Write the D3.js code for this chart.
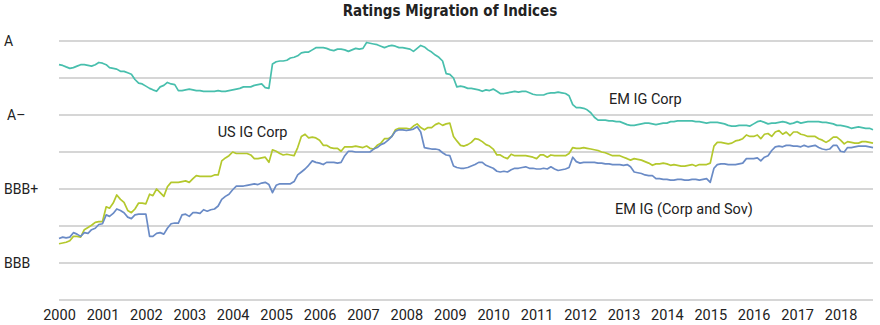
<!DOCTYPE html>
<html>
<head>
<meta charset="utf-8">
<script src="https://cdn.jsdelivr.net/npm/d3@7"></script>
<style>
  html, body { margin: 0; padding: 0; background: #ffffff; }
  svg { display: block; }
</style>
</head>
<body>
<svg id="chart" width="880" height="325"></svg>
<script>
// ---------- DATA ----------
const chartTitle = "Ratings Migration of Indices";
// monthly observations, Jan 2000 .. Oct 2018
const startMonth = new Date(2000, 0, 1);
const endMonth = new Date(2018, 9, 1);
// rating scale: notches above BBB
const ratingTicks = [0, 1, 2, 3];
const ratingLabels = ["BBB", "BBB+", "A\u2013", "A"];
const gridValues = [-0.5, 0, 0.5, 1, 1.5, 2, 2.5, 3];
const yearTicks = [2000,2001,2002,2003,2004,2005,2006,2007,2008,2009,2010,2011,2012,2013,2014,2015,2016,2017,2018];
const seriesNames = ["EM IG Corp", "US IG Corp", "EM IG (Corp and Sov)"];

const emIgCorp = [
2.68,2.67,2.65,2.63,2.64,2.66,2.68,2.68,2.67,2.66,2.68,2.71,2.70,2.68,2.64,2.63,2.62,2.59,2.59,2.57,
2.55,2.48,2.43,2.42,2.39,2.36,2.34,2.32,2.38,2.40,2.44,2.42,2.41,2.33,2.33,2.34,2.35,2.34,2.33,2.33,
2.32,2.32,2.32,2.32,2.33,2.32,2.32,2.33,2.34,2.35,2.36,2.38,2.38,2.38,2.40,2.41,2.42,2.37,2.36,2.69,
2.72,2.73,2.73,2.74,2.77,2.78,2.80,2.84,2.85,2.85,2.88,2.91,2.91,2.91,2.90,2.88,2.87,
2.89,2.89,2.88,2.86,2.88,2.90,2.89,2.90,2.98,2.97,2.96,2.95,2.93,2.91,2.93,2.94,2.93,2.91,2.91,2.90,
2.89,2.86,2.90,2.94,2.92,2.88,2.85,2.81,2.78,2.73,2.56,2.55,2.50,2.38,2.39,2.38,2.36,2.36,2.35,2.34,
2.32,2.34,2.33,2.35,2.32,2.29,2.29,2.30,2.31,2.32,2.31,2.32,2.32,2.30,2.28,2.27,2.27,2.27,2.29,2.30,
2.30,2.31,2.30,2.29,2.26,2.14,2.10,2.10,2.09,2.07,2.03,1.97,1.93,1.93,1.93,1.92,
1.92,1.91,1.91,1.89,1.87,1.86,1.86,1.87,1.88,1.89,1.89,1.88,1.87,1.88,1.89,1.89,1.91,1.91,1.92,1.92,
1.92,1.92,1.92,1.91,1.91,1.90,1.89,1.90,1.90,1.90,1.89,1.88,1.86,1.85,1.85,1.86,1.86,1.86,1.85,1.88,
1.91,1.92,1.90,1.88,1.89,1.89,1.90,1.91,1.90,1.88,1.89,1.91,1.89,1.90,1.91,1.91,1.91,1.91,1.90,1.90,
1.89,1.88,1.86,1.86,1.85,1.84,1.82,1.83,1.84,1.83,1.82,1.82,1.80
];

const usIgCorp = [
0.26,0.27,0.28,0.30,0.36,0.36,0.35,0.45,0.48,0.51,0.55,0.56,0.56,0.76,0.74,0.81,0.92,0.86,0.82,0.71,
0.68,0.73,0.81,0.81,0.80,0.93,0.91,1.00,0.95,0.90,1.03,1.09,1.09,1.09,1.10,1.11,1.09,1.14,1.18,1.17,
1.17,1.17,1.17,1.19,1.19,1.38,1.42,1.45,1.50,1.48,1.48,1.48,1.48,1.46,1.41,1.41,1.42,1.43,1.36,1.53,
1.51,1.48,1.46,1.47,1.46,1.45,1.56,1.71,1.74,1.69,1.70,1.69,1.66,1.59,1.59,1.56,1.55,
1.55,1.51,1.57,1.57,1.57,1.58,1.57,1.56,1.58,1.55,1.54,1.59,1.62,1.68,1.68,1.71,1.80,1.82,1.82,1.82,
1.81,1.85,1.88,1.83,1.80,1.83,1.83,1.87,1.89,1.86,1.88,1.89,1.71,1.65,1.59,1.58,1.60,1.63,1.68,1.67,
1.64,1.60,1.58,1.54,1.46,1.46,1.43,1.41,1.47,1.45,1.45,1.45,1.45,1.44,1.43,1.41,1.46,1.46,1.43,1.46,
1.45,1.45,1.45,1.45,1.48,1.56,1.55,1.55,1.56,1.55,1.54,1.53,1.52,1.50,1.49,1.47,
1.45,1.45,1.45,1.43,1.41,1.39,1.41,1.40,1.39,1.37,1.35,1.32,1.34,1.34,1.35,1.34,1.32,1.33,1.32,1.31,
1.31,1.32,1.33,1.31,1.33,1.33,1.33,1.35,1.58,1.63,1.63,1.62,1.61,1.62,1.65,1.66,1.68,1.73,1.71,1.71,
1.73,1.68,1.74,1.75,1.71,1.77,1.79,1.74,1.77,1.72,1.77,1.77,1.74,1.73,1.71,1.71,1.71,1.68,1.66,1.63,
1.66,1.70,1.70,1.66,1.61,1.64,1.63,1.62,1.62,1.64,1.64,1.63,1.62
];

const emIgCorpSov = [
0.33,0.35,0.34,0.35,0.41,0.39,0.36,0.41,0.40,0.45,0.47,0.52,0.53,0.65,0.63,0.67,0.73,0.71,0.68,0.62,
0.60,0.65,0.66,0.66,0.66,0.36,0.36,0.40,0.41,0.39,0.47,0.53,0.54,0.54,0.65,0.66,0.63,0.68,0.68,0.67,
0.72,0.70,0.72,0.73,0.77,0.86,0.90,0.93,0.99,1.04,1.04,1.04,1.05,1.06,1.07,1.06,1.08,1.09,1.06,0.95,
1.05,1.07,1.07,1.07,1.07,1.10,1.19,1.23,1.27,1.32,1.38,1.36,1.35,1.33,1.36,1.36,1.36,
1.35,1.36,1.45,1.51,1.51,1.50,1.50,1.50,1.50,1.50,1.54,1.56,1.60,1.62,1.66,1.71,1.78,1.80,1.80,1.79,
1.80,1.81,1.84,1.77,1.56,1.55,1.54,1.54,1.53,1.49,1.46,1.45,1.31,1.29,1.28,1.28,1.29,1.31,1.33,1.36,
1.36,1.32,1.30,1.28,1.24,1.23,1.24,1.23,1.26,1.28,1.28,1.29,1.30,1.28,1.28,1.27,1.27,1.28,1.27,1.30,
1.27,1.25,1.26,1.27,1.29,1.43,1.37,1.35,1.36,1.36,1.36,1.36,1.35,1.35,1.34,1.34,
1.33,1.33,1.33,1.32,1.33,1.30,1.23,1.22,1.21,1.19,1.18,1.18,1.14,1.14,1.13,1.13,1.12,1.12,1.13,1.13,
1.12,1.12,1.13,1.13,1.12,1.13,1.14,1.09,1.28,1.33,1.34,1.34,1.33,1.33,1.33,1.34,1.35,1.41,1.41,1.41,
1.42,1.38,1.43,1.45,1.52,1.57,1.58,1.57,1.59,1.59,1.58,1.58,1.57,1.59,1.57,1.58,1.59,1.56,1.54,1.53,
1.54,1.59,1.59,1.51,1.50,1.56,1.56,1.57,1.58,1.58,1.58,1.57,1.56
];

// label anchors (date, value) for series labels
const seriesLabelPos = [
  {name: "EM IG Corp", date: new Date(2012, 8, 1), value: 2.15},
  {name: "US IG Corp", date: new Date(2003, 7, 28), value: 1.70},
  {name: "EM IG (Corp and Sov)", date: new Date(2012, 9, 22), value: 0.66}
];

// ---------- CHART ----------
const months = d3.timeMonth.range(startMonth, d3.timeMonth.offset(endMonth, 1));
const colors = ["#48bfad", "#b4c82d", "#6a8bc6"];
const allSeries = [emIgCorp, usIgCorp, emIgCorpSov];

const svg = d3.select("#chart");
const plotLeft = 59, plotRight = 873, plotTop = 41, plotBottom = 300;

const x = d3.scaleTime().domain([startMonth, endMonth]).range([plotLeft, plotRight]);
const y = d3.scaleLinear().domain([-0.5, 3]).range([plotBottom, plotTop]);

const fontFamily = "Roboto, 'Open Sans', 'DejaVu Sans', sans-serif";

// title
svg.append("text")
  .attr("x", 450).attr("y", 16)
  .attr("text-anchor", "middle")
  .style("font-family", "'Liberation Sans Narrow', 'DejaVu Sans Condensed', sans-serif")
  .style("font-weight", "bold")
  .style("font-size", "15px")
  .style("fill", "#222")
  .text(chartTitle);

// gridlines
svg.append("g").selectAll("line").data(gridValues).join("line")
  .attr("x1", plotLeft).attr("x2", plotRight)
  .attr("y1", d => y(d)).attr("y2", d => y(d))
  .attr("stroke", "#c9c9c9").attr("stroke-width", 1.3);

// y labels
svg.append("g").selectAll("text").data(ratingTicks).join("text")
  .attr("x", (d, i) => i === 2 ? 7 : 4)
  .attr("y", d => y(d) + 5)
  .style("font-family", fontFamily)
  .style("font-size", "14px")
  .style("fill", "#222")
  .text((d, i) => ratingLabels[i]);

// x axis (labels only)
const xAxis = d3.axisBottom(x)
  .tickValues(yearTicks.map(yr => new Date(yr, 0, 1)))
  .tickFormat(d3.timeFormat("%Y"))
  .tickSize(0).tickPadding(0);
const gx = svg.append("g").attr("transform", `translate(0, ${plotBottom + 10})`).call(xAxis);
gx.select(".domain").remove();
gx.selectAll("text")
  .style("font-family", fontFamily)
  .style("font-size", "14.5px")
  .style("fill", "#222");

// lines
const line = d3.line()
  .x((d, i) => x(months[i]))
  .y(d => y(d));

svg.append("g").selectAll("path").data(allSeries).join("path")
  .attr("d", d => line(d))
  .attr("fill", "none")
  .attr("stroke", (d, i) => colors[i])
  .attr("stroke-width", 1.7)
  .attr("stroke-linejoin", "round");

// series labels
svg.append("g").selectAll("text").data(seriesLabelPos).join("text")
  .attr("x", d => x(d.date))
  .attr("y", d => y(d.value))
  .style("font-family", fontFamily)
  .style("font-size", "14.5px")
  .style("fill", "#222")
  .text(d => d.name);
</script>
</body>
</html>
